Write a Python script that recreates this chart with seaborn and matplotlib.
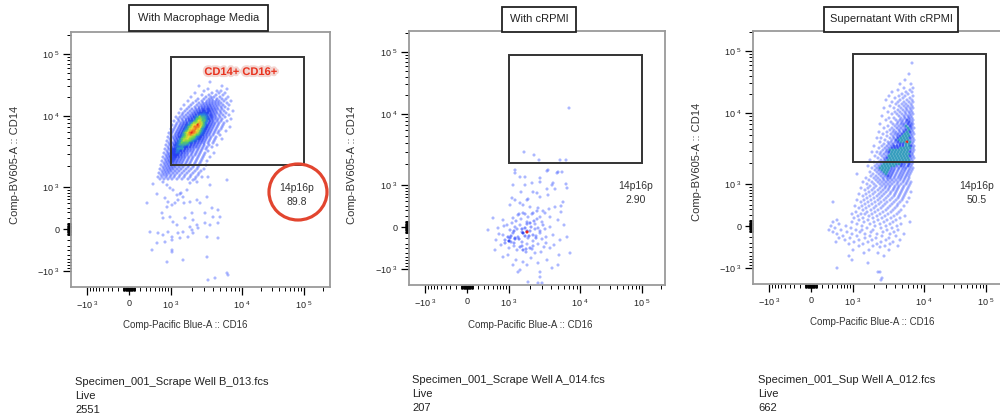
import numpy as np
import matplotlib
matplotlib.use("Agg")
import matplotlib.pyplot as plt
import seaborn as sns
import pandas as pd
from matplotlib.patches import Rectangle, Ellipse
from matplotlib.colors import LinearSegmentedColormap
import matplotlib.patheffects as pe

sns.set_theme(style="white")
plt.rcParams['font.family'] = ['Liberation Sans', 'DejaVu Sans']

# ---------------- data ----------------
panel_titles = ["With Macrophage Media", "With cRPMI", "Supernatant With cRPMI"]
sample_files = ["Specimen_001_Scrape Well B_013.fcs",
                "Specimen_001_Scrape Well A_014.fcs",
                "Specimen_001_Sup Well A_012.fcs"]
population = "Live"
live_counts = ["2551", "207", "662"]
gate_name = "14p16p"
gate_freq = ["89.8", "2.90", "50.5"]
gate_label = "CD14+ CD16+"
x_label = "Comp-Pacific Blue-A :: CD16"
y_label = "Comp-BV605-A :: CD14"

decade_values = [-1000, 0, 1000, 10000, 100000]
decade_channels = [16, 58, 100, 171, 233]
decade_labels = [r"$\mathregular{-10^{\ 3}}$", "0", r"$\mathregular{10^{\ 3}}$",
                 r"$\mathregular{10^{\ 4}}$", r"$\mathregular{10^{\ 5}}$"]
gate_cd16 = (1000, 100000)
gate_cd14 = (2100, 88000)

# events: (CD14 channel, [CD16 channels])
events_macrophage = [
    (205, [139]), (201, [128, 151]), (198, [156, 137]), (196, [133, 146, 150]),
    (194, [124, 141, 148, 154]), (192, [131, 138, 145, 152]),
    (190, [120, 135, 140, 143, 149, 157]), (188, [127, 133, 138, 141, 146, 151, 155]),
    (186, [117, 125, 131, 136, 139, 142, 145, 148, 153, 160]),
    (184, [122, 128, 132, 135, 138, 141, 144, 147, 150, 156]),
    (182, [113, 120, 126, 130, 133, 136, 139, 142, 145, 148, 152, 158]),
    (180, [118, 124, 128, 131, 134, 137, 140, 143, 146, 150, 154]),
    (178, [110, 116, 121, 125, 128, 131, 133, 136, 138, 141, 144, 147, 151, 157]),
    (176, [114, 119, 123, 126, 129, 132, 134, 137, 139, 142, 145, 149, 153, 162]),
    (174, [108, 112, 117, 121, 124, 127, 129, 131, 133, 135, 137, 140, 143, 146, 150, 155]),
    (172, [111, 115, 119, 122, 125, 128, 130, 132, 134, 136, 139, 141, 144, 148, 152, 158]),
    (170, [105, 109, 113, 117, 120, 123, 125, 127, 129, 131, 133, 135, 137, 140, 142, 145, 149, 154]),
    (168, [107, 111, 115, 118, 121, 124, 126, 128, 130, 132, 134, 136, 138, 141, 144, 147, 151, 160]),
    (166, [103, 108, 112, 115, 118, 120, 122, 124, 126, 128, 130, 132, 134, 136, 139, 142, 146, 150, 156]),
    (164, [106, 110, 113, 116, 119, 121, 123, 125, 127, 129, 131, 133, 135, 138, 141, 144, 148, 153]),
    (162, [101, 105, 109, 112, 115, 117, 119, 121, 123, 125, 127, 129, 131, 133, 135, 137, 140, 143, 147, 152]),
    (160, [104, 108, 111, 114, 116, 118, 120, 122, 124, 126, 128, 130, 132, 134, 136, 139, 142, 146, 151, 159]),
    (158, [100, 103, 107, 110, 113, 115, 117, 119, 121, 123, 125, 127, 129, 131, 133, 135, 138, 141, 145, 150]),
    (156, [102, 106, 109, 112, 114, 116, 118, 120, 122, 124, 126, 128, 130, 132, 134, 137, 140, 144, 148, 155]),
    (154, [98, 101, 105, 108, 111, 113, 115, 117, 119, 121, 123, 125, 127, 129, 131, 133, 136, 139, 143, 147]),
    (152, [100, 104, 107, 110, 112, 114, 116, 118, 120, 122, 124, 126, 128, 130, 132, 135, 138, 142, 149]),
    (150, [97, 102, 105, 108, 110, 112, 114, 116, 118, 120, 122, 124, 126, 128, 130, 133, 136, 140, 145]),
    (148, [99, 103, 106, 109, 111, 113, 115, 117, 119, 121, 123, 125, 127, 129, 132, 135, 139, 144, 151]),
    (146, [96, 100, 104, 107, 109, 111, 113, 115, 117, 119, 121, 123, 125, 128, 131, 134, 138, 143]),
    (144, [98, 102, 105, 107, 109, 111, 113, 115, 117, 119, 121, 124, 127, 130, 133, 137, 142]),
    (142, [95, 99, 103, 105, 107, 109, 111, 113, 115, 117, 120, 123, 126, 129, 133, 138, 146]),
    (140, [97, 101, 104, 106, 108, 110, 112, 114, 116, 119, 122, 125, 128, 132, 136, 141]),
    (138, [94, 98, 101, 103, 105, 107, 109, 111, 114, 117, 120, 123, 127, 131, 135]),
    (136, [96, 100, 102, 104, 106, 108, 110, 113, 116, 119, 122, 126, 130, 137]),
    (134, [93, 97, 100, 102, 104, 106, 108, 111, 114, 117, 121, 125, 129, 134, 143]),
    (132, [95, 98, 101, 103, 105, 107, 110, 113, 116, 120, 124, 128, 133]),
    (130, [92, 96, 99, 101, 103, 105, 108, 111, 114, 118, 122, 127, 132, 139]),
    (128, [94, 97, 100, 102, 104, 107, 110, 113, 117, 121, 126, 131]),
    (126, [91, 95, 98, 101, 103, 106, 109, 112, 116, 120, 125, 130, 136]),
    (124, [93, 96, 99, 102, 105, 108, 111, 115, 119, 124, 129]),
    (122, [90, 94, 97, 100, 103, 106, 110, 114, 118, 123, 128, 135]),
    (120, [92, 95, 98, 101, 104, 108, 112, 117, 122, 127]),
    (118, [89, 93, 96, 99, 102, 106, 110, 115, 120, 126, 133]),
    (116, [91, 94, 97, 100, 104, 108, 113, 118, 124, 130]),
    (114, [88, 92, 95, 98, 102, 106, 111, 116, 122, 128]),
    (112, [90, 93, 96, 100, 104, 109, 114, 120, 127]),
    (110, [87, 91, 95, 99, 103, 108, 113, 119, 125, 131, 137]),
    (108, [89, 93, 97, 101, 106, 111, 117, 124]),
    (107, [122, 156]), (105, [92, 126]), (104, [119]), (103, [82]), (102, [96, 139]),
    (99, [99]), (97, [102, 116]), (94, [110]), (93, [86, 109]), (92, [106]),
    (90, [112, 136]), (89, [94]), (87, [107, 126]), (85, [97, 119]),
    (84, [76, 104, 113, 129]), (82, [101]), (80, [96]), (79, [141]), (77, [147]),
    (74, [91, 121, 134]), (70, [99, 142, 149]), (69, [92, 114]), (67, [122]),
    (65, [102]), (64, [134, 147]), (62, [106, 126, 139]), (60, [119]), (59, [127]),
    (57, [121]), (55, [79, 97, 112]), (54, [87, 107, 122]), (52, [92]),
    (50, [101, 117, 136]), (49, [109, 147]), (47, [101]), (45, [94]), (44, [86]),
    (37, [81, 101]), (35, [101]), (30, [136]), (27, [112]), (25, [96]),
    (14, [156]), (12, [157]), (9, [144]), (7, [137]),
]

events_crpmi = [
    (177, [160]), (133, [115]), (130, [125]), (125, [130, 151, 157]),
    (115, [106, 139]), (114, [138]), (113, [149, 153]), (112, [106, 148]),
    (108, [111, 116]), (107, [131]), (103, [131]), (102, [123, 144]), (101, [157]),
    (100, [104, 116, 143]), (97, [158]), (96, [138, 146]), (93, [112, 124]),
    (92, [128]), (90, [139]), (88, [131]), (87, [103]), (86, [119]), (85, [106, 118]),
    (83, [154]), (82, [111]), (80, [101, 114]), (79, [152]), (78, [121, 146]),
    (77, [129]), (76, [140]), (74, [128, 134]), (73, [152]), (72, [114, 124, 136]),
    (71, [110, 116, 123]), (70, [109]), (68, [119, 131, 141]), (67, [84, 104]),
    (66, [112, 128]), (65, [94, 149]), (64, [107, 125]), (63, [118, 133]),
    (62, [103, 121]), (61, [118, 126]), (60, [98, 111, 134, 155]), (59, [95]),
    (58, [106, 122, 141]), (57, [89, 116, 129]), (56, [108, 113, 126, 136]),
    (55, [79, 101]), (54, [105, 118, 121, 131]), (53, [113, 118]),
    (52, [104, 114, 131]), (51, [90]), (50, [94, 124, 144]),
    (49, [102, 116, 120, 127]), (48, [99, 109, 137, 158]),
    (47, [101, 106, 119, 127]), (46, [106, 110, 133]), (45, [87, 96, 151]),
    (44, [100, 124]), (43, [102, 113]), (42, [96, 105, 137]), (41, [118, 129]),
    (40, [92, 145]), (39, [105, 113, 124]), (38, [111, 135]), (37, [100, 121, 141]),
    (36, [117, 123]), (35, [86, 108, 114]), (33, [117, 132]), (32, [126, 161]),
    (30, [99, 150]), (28, [94]), (27, [122]), (25, [107, 138]), (23, [114]),
    (22, [129]), (20, [104, 118, 149]), (17, [143]), (15, [111]), (13, [109, 131]),
    (8, [131]), (3, [119]), (2, [129, 133]),
]

events_supernatant = [
    (221, [159]), (210, [156]), (204, [152]), (200, [147, 158]), (196, [151, 160]),
    (194, [145, 157]), (192, [139, 153, 159]), (190, [149, 155]),
    (188, [136, 146, 152, 160]), (186, [142, 150, 157]), (184, [133, 147, 154, 159]),
    (182, [139, 145, 151, 156, 160]), (180, [143, 149, 153, 158]),
    (178, [137, 146, 151, 155, 159]), (176, [131, 141, 148, 153, 157, 160]),
    (174, [145, 150, 154, 158]), (172, [135, 142, 147, 152, 156, 159]),
    (170, [139, 144, 149, 153, 157, 160]), (168, [129, 146, 151, 155, 158]),
    (166, [136, 141, 148, 152, 156, 159]), (164, [133, 143, 147, 150, 154, 157, 160]),
    (162, [138, 145, 149, 153, 156, 159]), (160, [127, 140, 144, 148, 151, 155, 158, 160]),
    (158, [135, 142, 146, 150, 153, 157, 159]), (156, [131, 139, 144, 148, 152, 155, 158, 161]),
    (154, [137, 141, 146, 150, 153, 156, 159]),
    (152, [126, 134, 140, 143, 147, 151, 154, 157, 160]),
    (150, [130, 138, 142, 145, 149, 152, 155, 158, 161]),
    (148, [134, 140, 144, 147, 150, 153, 156, 159]),
    (146, [124, 128, 137, 141, 145, 148, 151, 154, 157, 160]),
    (144, [132, 139, 143, 146, 149, 152, 155, 158, 161]),
    (142, [127, 135, 138, 142, 145, 148, 151, 154, 157, 160]),
    (140, [131, 136, 140, 144, 147, 150, 153, 156, 159]),
    (138, [121, 129, 134, 138, 141, 144, 147, 150, 153, 156, 158, 161]),
    (136, [126, 132, 136, 139, 142, 145, 148, 151, 154, 157, 160]),
    (134, [130, 134, 137, 140, 143, 146, 149, 152, 155, 158, 161]),
    (132, [119, 124, 128, 133, 136, 139, 142, 145, 148, 151, 154, 157, 160]),
    (130, [127, 131, 135, 138, 141, 144, 147, 150, 153, 156, 159]),
    (128, [122, 129, 133, 136, 139, 142, 145, 148, 151, 154, 157, 160]),
    (126, [125, 131, 134, 137, 140, 143, 146, 149, 152, 155, 158, 161]),
    (124, [117, 128, 132, 135, 138, 141, 144, 147, 150, 153, 156, 159]),
    (122, [121, 126, 130, 133, 136, 139, 142, 145, 148, 151, 154, 157, 160]),
    (120, [124, 128, 131, 134, 137, 140, 143, 146, 149, 152, 156, 159]),
    (118, [115, 122, 126, 129, 132, 135, 138, 141, 144, 148, 151, 155, 158]),
    (116, [119, 124, 127, 130, 133, 136, 139, 142, 146, 150, 153, 157, 160]),
    (114, [122, 126, 129, 132, 135, 138, 141, 145, 149, 152, 156, 159]),
    (112, [117, 124, 128, 131, 134, 137, 140, 144, 148, 151, 155, 158]),
    (110, [104, 120, 126, 130, 133, 136, 139, 143, 147, 150, 154, 157]),
    (108, [118, 123, 128, 132, 135, 138, 142, 146, 149, 153, 156]),
    (106, [113, 121, 125, 130, 134, 137, 141, 145, 148, 152, 156]),
    (104, [116, 123, 127, 131, 135, 139, 143, 147, 151, 155]),
    (102, [110, 119, 125, 129, 133, 137, 141, 145, 150, 154, 158]),
    (100, [114, 121, 127, 131, 135, 139, 144, 148, 153, 157]),
    (98, [117, 123, 129, 133, 137, 142, 146, 151, 156]),
    (96, [108, 115, 121, 127, 132, 136, 141, 145, 150, 155]),
    (94, [112, 119, 125, 130, 135, 140, 144, 149, 154]),
    (92, [116, 122, 128, 133, 138, 143, 148, 153, 158]),
    (90, [106, 113, 120, 126, 131, 137, 142, 147, 152]),
    (88, [110, 117, 124, 129, 135, 141, 146, 151]),
    (86, [114, 121, 127, 133, 139, 145, 150, 156]),
    (84, [104, 111, 118, 125, 131, 137, 143, 149]),
    (82, [80, 108, 115, 122, 128, 134, 141, 147, 154]),
    (80, [112, 119, 126, 132, 139, 145]),
    (78, [102, 109, 116, 123, 130, 137, 144, 151]),
    (76, [106, 113, 121, 128, 135, 142]),
    (74, [110, 118, 125, 133, 140, 148]),
    (72, [103, 114, 122, 130, 138, 146]),
    (70, [99, 108, 112, 119, 127, 135, 144]),
    (68, [105, 116, 124, 132, 141, 152]),
    (66, [101, 110, 120, 129, 138, 147]),
    (64, [84, 106, 115, 125, 134, 143]),
    (62, [80, 99, 111, 121, 131, 140, 157]),
    (60, [86, 104, 117, 127, 137, 148]),
    (58, [78, 93, 109, 122, 133, 144]),
    (56, [82, 98, 114, 128, 139]),
    (54, [76, 88, 103, 109, 120, 134, 145]),
    (52, [80, 94, 107, 118, 130, 141]),
    (50, [84, 99, 112, 124, 137, 151]),
    (48, [90, 104, 117, 129, 143]),
    (46, [86, 97, 112, 123, 136]),
    (44, [92, 106, 119, 133, 147]),
    (42, [83, 101, 115, 128, 140]),
    (40, [96, 110, 124, 137]),
    (38, [106, 120, 132, 145]), (37, [127]), (34, [100, 116, 136]), (31, [111, 125]),
    (28, [96, 131]), (24, [99]), (21, [115]), (16, [84]), (12, [125, 127]),
    (6, [129]), (4, [128]),
]

# ---------------- helpers ----------------
W, H = 1000, 419
ASINH_C = 500.0


def to_channel(v):
    u = np.arcsinh(np.asarray(v, float) / ASINH_C)
    ua = np.arcsinh(np.array(decade_values, float) / ASINH_C)
    ca = np.array(decade_channels, float)
    lo = (ca[1] - ca[0]) / (ua[1] - ua[0])
    hi = (ca[-1] - ca[-2]) / (ua[-1] - ua[-2])
    out = np.interp(u, ua, ca)
    out = np.where(u < ua[0], ca[0] + (u - ua[0]) * lo, out)
    out = np.where(u > ua[-1], ca[-1] + (u - ua[-1]) * hi, out)
    return out


def expand(rows):
    xs, ys = [], []
    for y, xl in rows:
        for x in xl:
            xs.append(x)
            ys.append(y)
    return np.array(xs, float), np.array(ys, float)


def fx(px):
    return px / W


def fy(py):
    return 1 - py / H


minor_vals = ([s * m * 10 ** k for s in (1, -1) for k in (1, 2) for m in range(1, 10)]
              + [m * 10 ** k for k in (3, 4) for m in range(2, 10)] + [200000])
minor_all = to_channel(minor_vals)

cmap = LinearSegmentedColormap.from_list("flowjo", [
    (0.00, (0.36, 0.45, 1.00, 0.50)),
    (0.45, (0.22, 0.32, 1.00, 0.65)),
    (0.68, (0.10, 0.20, 0.95, 0.85)),
    (0.78, (0.15, 0.55, 0.85, 0.95)),
    (0.86, (0.40, 0.85, 0.30, 1.0)),
    (0.93, (0.92, 0.85, 0.20, 1.0)),
    (0.97, (0.95, 0.55, 0.15, 1.0)),
    (1.00, (0.90, 0.15, 0.12, 1.0)),
])

fig = plt.figure(figsize=(W / 100, H / 100), dpi=100)
fig.patch.set_facecolor("white")

axes_px = [(71, 32, 330, 287), (409, 31, 665, 285), (753, 31, 1011, 284)]
events = [events_macrophage, events_crpmi, events_supernatant]
title_boxes = [(129, 5, 268, 31), (502, 7, 576, 32), (824, 7, 958, 32)]
ylabel_pos = [(15, 165), (352, 165), (697, 162)]
xlabel_pos = [(185, 325), (530, 325), (872, 322)]
sample_pos = [(75, 382), (412, 380), (758, 380)]
freq_pos = [(226, 92), (227, 92), (224, 91)]
density_radius = [9.0, 5.0, 6.0]
density_gamma = [1.6, 2.5, 4.0]

gx = to_channel(gate_cd16)
gy = to_channel(gate_cd14)

for i in range(3):
    l, t, r, b = axes_px[i]
    xmax, ymax = r - l, b - t
    ax = fig.add_axes([fx(l), fy(b), (r - l) / W, (b - t) / H])
    x, y = expand(events[i])
    d2 = (x[:, None] - x[None, :]) ** 2 + (y[:, None] - y[None, :]) ** 2
    dens = (d2 < density_radius[i] ** 2).sum(1)
    dn = (dens / dens.max()) ** density_gamma[i]
    df = pd.DataFrame({"cd16": x, "cd14": y, "density": dn})
    sns.scatterplot(data=df, x="cd16", y="cd14", hue="density", palette=cmap,
                    hue_norm=(0, 1), s=5, linewidth=0, marker="o",
                    legend=False, ax=ax, zorder=2)
    ax.set_xlim(0, xmax)
    ax.set_ylim(0, ymax)
    ax.set_xlabel("")
    ax.set_ylabel("")
    ax.set_facecolor("white")
    for s in ax.spines.values():
        s.set_color("#9a9a9a")
        s.set_linewidth(1.3)
    ax.set_xticks(decade_channels, decade_labels)
    ax.set_yticks(decade_channels, decade_labels)
    ax.set_xticks(minor_all[(minor_all > 0) & (minor_all < xmax)], minor=True)
    ax.set_yticks(minor_all[(minor_all > 0) & (minor_all < ymax)], minor=True)
    ax.tick_params(axis="both", which="major", direction="out", length=5.5, width=0.9,
                   color="black", labelsize=6.5, labelcolor="#222222", pad=3,
                   bottom=True, left=True)
    ax.tick_params(axis="both", which="minor", direction="out", length=2.8, width=0.7,
                   color="black", bottom=True, left=True)
    ax.grid(False)
    # gate
    ax.add_patch(Rectangle((gx[0], gy[0]), gx[1] - gx[0], gy[1] - gy[0], fill=False,
                           edgecolor="#333333", linewidth=1.4, zorder=3))
    fxp, fyp = freq_pos[i]
    ax.text(fxp, fyp, f"{gate_name}\n{gate_freq[i]}", ha="center", va="center",
            fontsize=7.5, color="#333333", linespacing=1.55, zorder=4)
    if i == 0:
        ax.text(170, 215, gate_label, ha="center", va="center", fontsize=8,
                fontweight="bold", color="#e8321e", zorder=4,
                path_effects=[pe.withStroke(linewidth=3, foreground="#f3d6d2")])

    # title box
    x0, y0, x1, y1 = title_boxes[i]
    fig.add_artist(Rectangle((fx(x0), fy(y1)), (x1 - x0) / W, (y1 - y0) / H,
                             transform=fig.transFigure, facecolor="white",
                             edgecolor="#222222", linewidth=1.3, zorder=5))
    fig.text(fx((x0 + x1) / 2), fy((y0 + y1) / 2), panel_titles[i], ha="center",
             va="center", fontsize=8, color="#222222", zorder=6)
    # axis labels
    px_, py_ = ylabel_pos[i]
    fig.text(fx(px_), fy(py_), y_label, rotation=90, ha="center", va="center",
             fontsize=8, color="#333333")
    px_, py_ = xlabel_pos[i]
    fig.text(fx(px_), fy(py_), x_label, ha="center", va="center",
             fontsize=7, color="#333333")
    # sample info
    sx, sy = sample_pos[i]
    for k, line in enumerate([sample_files[i], population, live_counts[i]]):
        fig.text(fx(sx), fy(sy + 14 * k), line, ha="left", va="center",
                 fontsize=8, color="#222222")

# red highlight circle around the first gate statistic
fig.add_artist(Ellipse((fx(298), fy(192)), 58 / W, 56 / H, transform=fig.transFigure,
                       fill=False, edgecolor="#e2452f", linewidth=2.3, zorder=7))

fig.savefig("out.png", dpi=100, facecolor="white")
